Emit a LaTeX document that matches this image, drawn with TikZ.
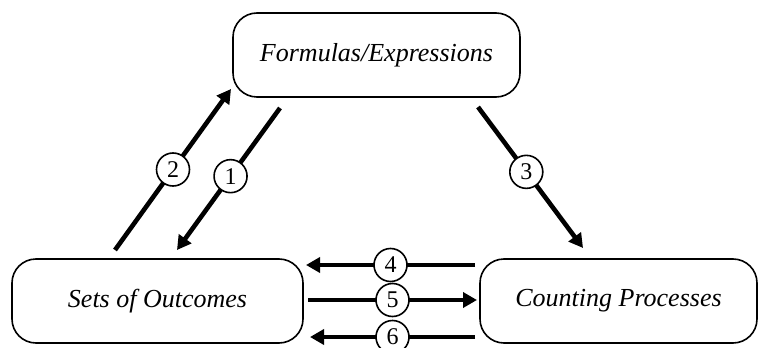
\documentclass[tikz,border=0pt]{standalone}
\usepackage{fontspec}
\setmainfont{Liberation Serif}
\usetikzlibrary{arrows.meta}

\begin{document}
\begin{tikzpicture}[x=0.5pt, y=-0.5pt,
    box/.style ={rectangle, rounded corners=12pt, draw, line width=0.8pt,
                 font=\fontsize{13}{15}\selectfont\itshape},
    flow/.style ={line width=2.3pt, -{Triangle[length=7pt,width=7.5pt]}},
    num/.style ={circle, draw, line width=0.8pt, fill=white, inner sep=0pt,
                 minimum size=16.5pt, font=\fontsize{12}{14}\selectfont}]
   \useasboundingbox (0,0) rectangle (758,347);
   \node[box, minimum width=143.5pt, minimum height=42pt] (formulas) at (376.5,55) {Formulas/Expressions};
   \node[box, minimum width=145.5pt, minimum height=42pt] (sets) at (157.5,301) {Sets of Outcomes};
   \node[box, minimum width=138.5pt, minimum height=42pt] (counting) at (618.5,301) {Counting Processes};
   % free ends of the arrows
   \coordinate (a1s) at (280,108);
   \coordinate (a1e) at (177,250);
   \coordinate (a2s) at (115,250);
   \coordinate (a2e) at (231,89);
   \coordinate (a3s) at (478,107);
   \coordinate (a3e) at (583,248);
   \coordinate (a4s) at (475,265);
   \coordinate (a4e) at (306,265);
   \coordinate (a5s) at (308,300);
   \coordinate (a5e) at (477,300);
   \coordinate (a6s) at (475,337);
   \coordinate (a6e) at (310,337);
   \draw[flow] (a1s) to node[num, pos=0.48] {1} (a1e);
   \draw[flow] (a2s) to node[num] {2} (a2e);
   \draw[flow] (a3s) to node[num, pos=0.46] {3} (a3e);
   \draw[flow] (a4s) to node[num] {4} (a4e);
   \draw[flow] (a5s) to node[num] {5} (a5e);
   \draw[flow] (a6s) to node[num] {6} (a6e);
\end{tikzpicture}
\end{document}
